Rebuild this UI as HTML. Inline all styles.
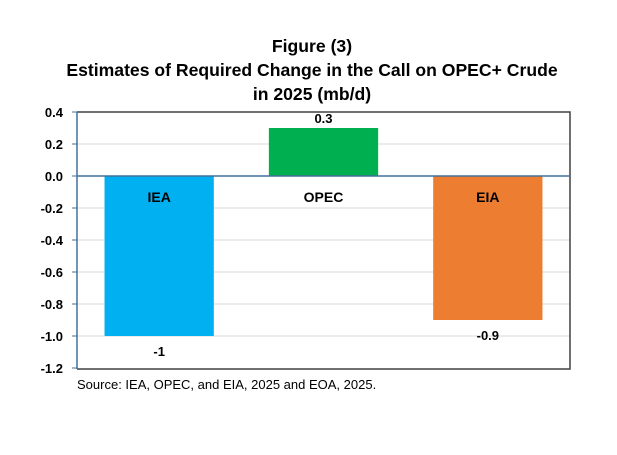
<!DOCTYPE html>
<html><head><meta charset="utf-8"><style>
body{margin:0;background:#fff;width:617px;height:450px;overflow:hidden;font-family:"Liberation Sans",Arial,sans-serif}
</style></head><body>
<svg width="617" height="450" xmlns="http://www.w3.org/2000/svg">
<g font-weight="bold" font-size="17.6" text-anchor="middle" fill="#000">
<text x="312" y="52">Figure (3)</text>
<text x="312" y="76">Estimates of Required Change in the Call on OPEC+ Crude</text>
<text x="312" y="100">in 2025 (mb/d)</text>
</g>
<g id="plot"></g>
<text x="77" y="389" font-size="13" fill="#000">Source: IEA, OPEC, and EIA, 2025 and EOA, 2025.</text>
</svg>
<script>
const categories = ["IEA","OPEC","EIA"];
const values = [-1, 0.3, -0.9];
const valueLabels = ["-1","0.3","-0.9"];
const colors = ["#00b0f0","#00b050","#ed7d31"];
const ticks = [0.4,0.2,0.0,-0.2,-0.4,-0.6,-0.8,-1.0,-1.2];
const tickLabels = ["0.4","0.2","0.0","-0.2","-0.4","-0.6","-0.8","-1.0","-1.2"];
const L=77,R=570,T=112,B=368,ymax=0.4,ymin=-1.2;
const y=v=>T+(ymax-v)/(ymax-ymin)*(B-T);
const cw=(R-L)/categories.length;
const x=i=>L+cw*(i+0.5);
const NS="http://www.w3.org/2000/svg";
const g=document.getElementById('plot');
function mk(t,a){const e=document.createElementNS(NS,t);for(const k in a)e.setAttribute(k,a[k]);g.appendChild(e);return e;}
ticks.forEach((t,i)=>{
  if(t!==0&&t!==ymax&&t!==ymin){const l=mk('line',{x1:L,x2:R,y1:y(t),y2:y(t),stroke:'#d9d9d9','stroke-width':1});
  
  }
  const tk=mk('line',{x1:L-5,x2:L,y1:y(t),y2:y(t),stroke:'#41719c','stroke-width':1});
  
  
  const tx=mk('text',{x:L-14,y:y(t)+5,'text-anchor':'end','font-size':13,'font-weight':'bold'});
  tx.textContent=tickLabels[i];
  
  
});
const bw=cw*0.665;
categories.forEach((c,i)=>{
  const v=values[i],y0=y(0),yv=y(v);
  const r=mk('rect',{x:x(i)-bw/2,y:Math.min(y0,yv),width:bw,height:Math.abs(yv-y0),fill:colors[i]});
  
  
  const cl=mk('text',{x:x(i),y:y0+26,'text-anchor':'middle','font-size':14,'font-weight':'bold'});
  cl.textContent=c;
  
  
  const vl=mk('text',{x:x(i),y:v>=0?yv-5:yv+20,'text-anchor':'middle','font-size':13,'font-weight':'bold'});
  vl.textContent=valueLabels[i];
  
  
});
const fr=mk('path',{d:`M${L} ${T}H${R}V${B+1}H${L}`,fill:'none',stroke:'#404040','stroke-width':1.5});


const ya=mk('line',{x1:L,x2:L,y1:T,y2:B+1,stroke:'#41719c','stroke-width':1.5});


const z=mk('line',{x1:L,x2:R,y1:y(0),y2:y(0),stroke:'#41719c','stroke-width':1.5});


</script>
</body></html>
